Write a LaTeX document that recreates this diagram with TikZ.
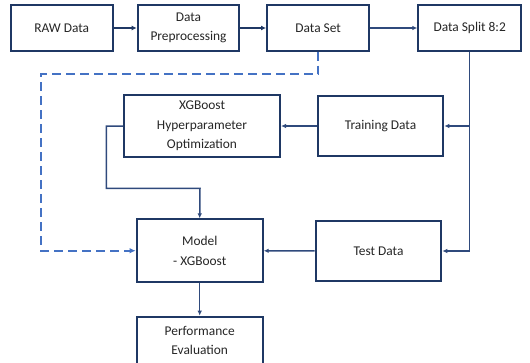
\documentclass[tikz,border=0pt]{standalone}
\usepackage{fontspec}
\setmainfont{Carlito}
\usetikzlibrary{arrows.meta}
\definecolor{boxc}{HTML}{1F3864}
\definecolor{linec}{HTML}{2F4A7C}
\definecolor{dashc}{HTML}{4472C4}
\definecolor{txtc}{HTML}{262626}
\begin{document}
\begin{tikzpicture}[x=1pt,y=-1pt,
  box/.style={draw=boxc,line width=2pt,fill=white,align=center,text=txtc,
    font=\fontsize{13.4}{19.5}\selectfont,inner sep=0pt},
  conn/.style={draw=boxc,line width=2pt,-{Latex[length=5pt,width=5pt]}},
  thin/.style={draw=linec,line width=1.5pt,-{Latex[length=5pt,width=4.5pt]}},
  dashconn/.style={draw=dashc,line width=2pt,dash pattern=on 9pt off 5pt,-{Latex[length=6pt,width=5.5pt]}}]
\useasboundingbox (0,0) rectangle (530,362);
\node[box,minimum width=102pt,minimum height=45.4pt] (raw) at (61.7,28) {RAW Data};
\node[box,minimum width=101.6pt,minimum height=45.4pt] (prep) at (188.5,28) {Data\\Preprocessing};
\node[box,minimum width=102.3pt,minimum height=45.4pt] (set) at (318.2,28) {Data Set};
\node[box,minimum width=102.7pt,minimum height=45.4pt] (split) at (469.7,28) {Data Split 8:2};
\node[box,minimum width=156pt,minimum height=62.6pt] (xgb) at (202,126) {XGBoost\\Hyperparameter\\Optimization};
\node[box,minimum width=125.6pt,minimum height=60pt] (train) at (380.5,126) {Training Data};
\node[box,minimum width=126pt,minimum height=62.7pt] (model) at (199.7,250.7) {Model\\- XGBoost};
\node[box,minimum width=125.6pt,minimum height=59.4pt] (test) at (378.5,251) {Test Data};
\node[box,minimum width=126pt,minimum height=47.6pt] (perf) at (199.7,340.5) {Performance\\Evaluation};
\coordinate (splitx) at (469.3,0);
\draw[conn] (raw) -- (prep);
\draw[conn] (prep) -- (set);
\draw[thin] (set) -- (split);
\draw[thin] (split.south -| splitx) |- (train.east);
\draw[thin] (split.south -| splitx) |- (test.east);
\draw[thin] (train) -- (xgb);
\draw[thin] (test) -- (model);
\draw[thin] (xgb.west) -- ++(-16.7,0) |- (200,188.3) -- (model.north);
\draw[thin] (model) -- (perf);
\draw[dashconn] (set.south -| 318.3,0) -- (318.3,74) -- (40.7,74) |- (model.west);
\end{tikzpicture}
\end{document}
